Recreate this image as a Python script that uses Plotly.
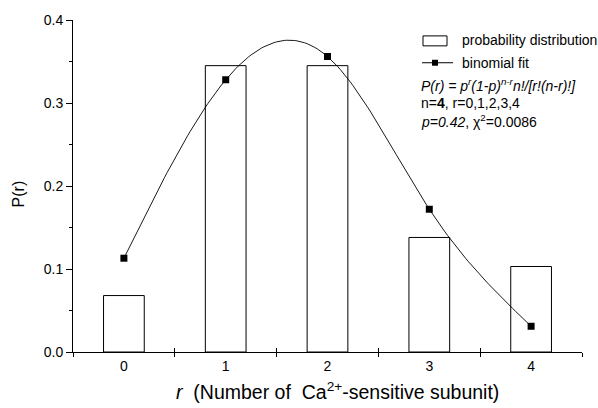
import numpy as np
import plotly.graph_objects as go

# ---- data ----
r_vals = [0, 1, 2, 3, 4]
prob_dist = [0.068, 0.345, 0.345, 0.138, 0.103]
binom_fit = [0.113, 0.328, 0.356, 0.172, 0.031]
x_tick_labels = ["0", "1", "2", "3", "4"]
x_tick_marks = [-0.5, 0.5, 1.5, 2.5, 3.5, 4.5]
y_major = [0.0, 0.1, 0.2, 0.3, 0.4]
y_minor = [0.05, 0.15, 0.25, 0.35]

W, H = 598, 408
ML, MR, MT, MB = 73, 16, 18, 56
PW, PH = W - ML - MR, H - MT - MB
FONT = "Arial, Liberation Sans, sans-serif"


def px(x):
    return (x - ML) / PW


def py(y):
    return (H - MB - y) / PH


def natural_spline_path(xs, ys, per_seg=40):
    """Render the 'spline' connecting line through the fit points
    (natural cubic spline, as the original plotting program draws it)."""
    xs = np.asarray(xs, float)
    ys = np.asarray(ys, float)
    n = len(xs)
    h = np.diff(xs)
    A = np.zeros((n, n))
    b = np.zeros(n)
    A[0, 0] = A[-1, -1] = 1.0
    for i in range(1, n - 1):
        A[i, i - 1] = h[i - 1]
        A[i, i] = 2 * (h[i - 1] + h[i])
        A[i, i + 1] = h[i]
        b[i] = 6 * ((ys[i + 1] - ys[i]) / h[i] - (ys[i] - ys[i - 1]) / h[i - 1])
    M = np.linalg.solve(A, b)
    px_, py_ = [], []
    for i in range(n - 1):
        t = np.linspace(0, 1, per_seg, endpoint=(i == n - 2))
        xx = xs[i] + t * h[i]
        a, c = 1 - t, t
        yy = (a * ys[i] + c * ys[i + 1]
              + ((a ** 3 - a) * M[i] + (c ** 3 - c) * M[i + 1]) * h[i] ** 2 / 6)
        px_.extend(xx.tolist())
        py_.extend(yy.tolist())
    return px_, py_


curve_x, curve_y = natural_spline_path(r_vals, binom_fit)

fig = go.Figure()
fig.add_trace(go.Bar(
    x=r_vals, y=prob_dist, width=0.4,
    marker=dict(color="white", line=dict(color="black", width=1)),
    showlegend=False,
))
fig.add_trace(go.Scatter(
    x=curve_x, y=curve_y, mode="lines",
    line=dict(color="black", width=0.9),
    showlegend=False, hoverinfo="skip",
))
fig.add_trace(go.Scatter(
    x=r_vals, y=binom_fit, mode="markers",
    marker=dict(symbol="square", size=7, color="black"),
    showlegend=False,
))
# invisible trace to activate overlay axis (inner half of the crossing ticks)
fig.add_trace(go.Scatter(x=[None], y=[None], xaxis="x2", showlegend=False))

fig.update_layout(
    width=W, height=H,
    margin=dict(l=ML, r=MR, t=MT, b=MB),
    paper_bgcolor="white", plot_bgcolor="white",
    font=dict(family=FONT, color="black", size=14),
    xaxis=dict(
        range=[-0.5, 4.5], showgrid=False, zeroline=False,
        showline=True, linecolor="black", linewidth=1,
        tickmode="array", tickvals=r_vals, ticktext=x_tick_labels,
        ticks="", tickfont=dict(size=14), ticklabelstandoff=1,
        minor=dict(tickmode="array", tickvals=x_tick_marks, ticks="outside",
                   ticklen=4, tickcolor="black", tickwidth=1),
    ),
    xaxis2=dict(
        overlaying="x", anchor="y", side="bottom", matches="x",
        range=[-0.5, 4.5], showgrid=False, zeroline=False, showline=False,
        tickmode="array", tickvals=x_tick_marks, ticks="inside",
        ticklen=4, tickcolor="black", showticklabels=False,
    ),
    yaxis=dict(
        range=[0, 0.4], showgrid=False, zeroline=False,
        showline=True, linecolor="black", linewidth=1,
        tickmode="array", tickvals=y_major, tickformat=".1f",
        ticks="outside", ticklen=6, tickcolor="black",
        tickfont=dict(size=14),
        minor=dict(tickmode="array", tickvals=y_minor, ticks="outside",
                   ticklen=3, tickcolor="black"),
    ),
)

# axis titles
fig.add_annotation(
    text="P(r)", textangle=-90, xref="paper", yref="paper",
    x=px(18.5), y=py(193), xanchor="center", yanchor="middle",
    showarrow=False, font=dict(size=16),
)
fig.add_annotation(
    text="<i>r</i> &nbsp;(Number of &nbsp;Ca<sup>2+</sup>-sensitive subunit)",
    xref="paper", yref="paper", x=px(337), y=py(391),
    xanchor="center", yanchor="middle", showarrow=False, font=dict(size=19.5),
)

# legend (drawn)
fig.add_shape(type="rect", xref="paper", yref="paper",
              x0=px(423), x1=px(447), y0=py(44), y1=py(34),
              line=dict(color="black", width=1), fillcolor="white")
fig.add_shape(type="line", xref="paper", yref="paper",
              x0=px(422), x1=px(453), y0=py(61), y1=py(61),
              line=dict(color="black", width=1))
fig.add_shape(type="rect", xref="paper", yref="paper",
              x0=px(432), x1=px(438), y0=py(64), y1=py(58),
              line=dict(color="black", width=0), fillcolor="black")

legend_lines = [
    ("probability distribution", 460, 38.5),
    ("binomial fit", 460, 61),
    ("<i>P(r) = p<sup>r</sup>(1-p)<sup>n-r</sup>n!/[r!(n-r)!]</i>", 419, 83),
    ("n=<b>4</b>, r=0,1,2,3,4", 419, 102),
    ("<i>p=0.42</i>, χ<sup>2</sup>=0.0086", 419, 120),
]
for txt, x0, y0 in legend_lines:
    fig.add_annotation(text=txt, xref="paper", yref="paper",
                       x=px(x0), y=py(y0), xanchor="left", yanchor="middle",
                       showarrow=False, font=dict(size=14))

fig.write_html("out.html")
